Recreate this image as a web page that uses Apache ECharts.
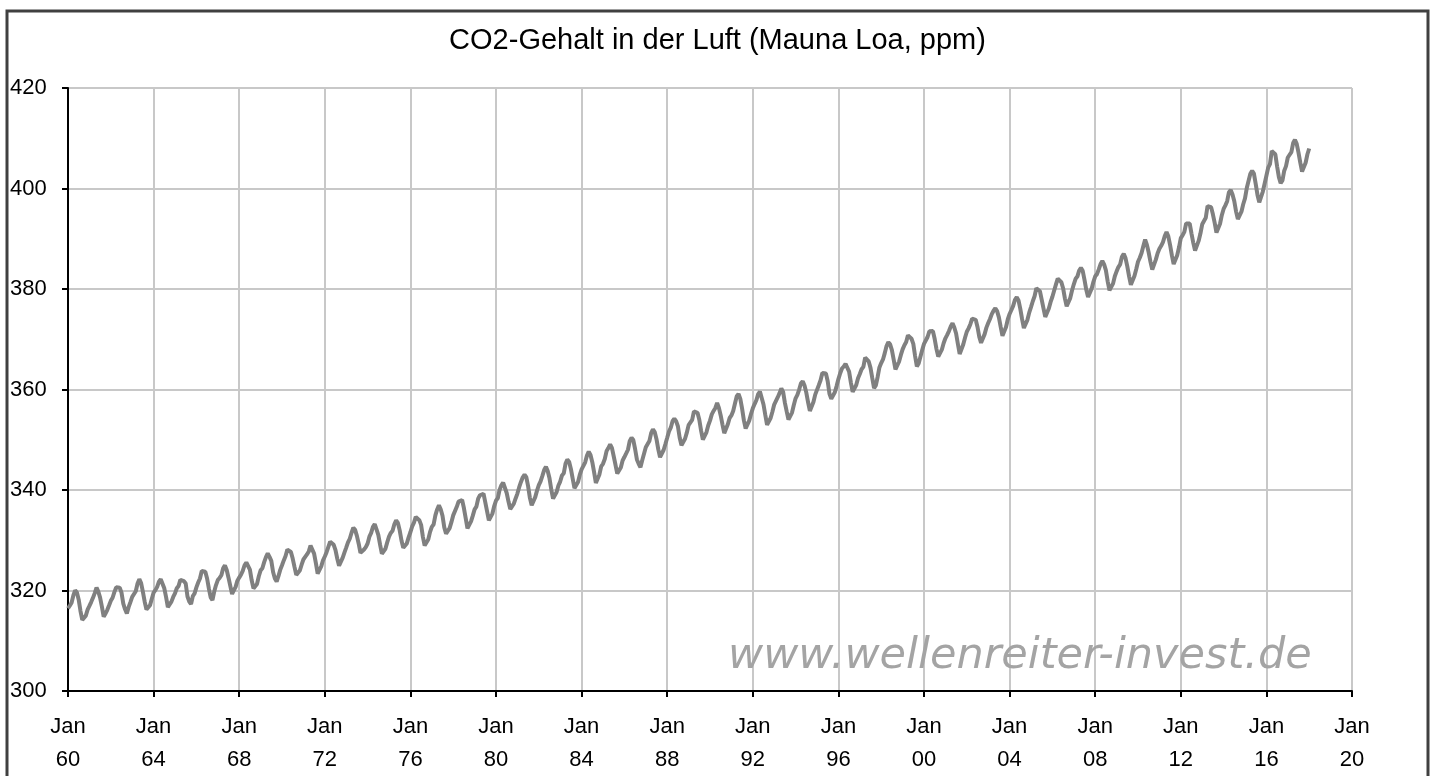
<!DOCTYPE html>
<html>
<head>
<meta charset="utf-8">
<title>CO2-Gehalt in der Luft</title>
<script src="https://cdn.jsdelivr.net/npm/echarts@6/dist/echarts.min.js"></script>
<style>
  html, body { margin: 0; padding: 0; background: #fff; }
  #chart { width: 1435px; height: 776px; }
</style>
</head>
<body>
<div id="chart"></div>
<script>
// Monatswerte Mauna Loa (ppm), eine Zeile = ein Jahr (Jan..Dez)
const startYear = 1960

const co2_1960s = [
  316.43, 316.97, 317.58, 319.02, 320.03, 319.59, 318.18, 315.91, 314.16, 313.83, 315.00, 316.19,
  316.93, 317.70, 318.54, 319.48, 320.58, 319.77, 318.57, 316.79, 314.80, 315.38, 316.10, 317.01,
  317.94, 318.56, 319.68, 320.63, 321.01, 320.55, 319.58, 317.40, 316.26, 315.42, 316.69, 317.69,
  318.74, 319.08, 319.86, 321.39, 322.25, 321.47, 319.74, 317.77, 316.21, 315.99, 317.07, 318.35,
  319.57, 320.07, 320.73, 321.77, 322.25, 321.89, 320.44, 318.70, 316.70, 316.79, 317.79, 318.71,
  319.44, 320.44, 320.89, 322.13, 322.16, 321.87, 321.39, 318.81, 317.81, 317.30, 318.87, 319.42,
  320.62, 321.59, 322.39, 323.87, 324.01, 323.75, 322.39, 320.37, 318.64, 318.10, 319.79, 321.08,
  322.07, 322.50, 323.04, 324.42, 325.00, 324.09, 322.55, 320.92, 319.31, 319.31, 320.72, 321.96,
  322.57, 323.15, 323.89, 325.02, 325.57, 325.36, 324.14, 322.03, 320.41, 320.25, 321.31, 322.84,
  324.00, 324.42, 325.64, 326.66, 327.38, 326.70, 325.89, 323.67, 322.38, 321.78, 322.85, 324.11
]

const co2_1970s = [
  325.03, 325.99, 326.87, 328.13, 328.07, 327.66, 326.35, 324.69, 323.10, 323.16, 323.98, 325.13,
  326.17, 326.68, 327.18, 327.78, 328.92, 328.57, 327.34, 325.46, 323.36, 323.57, 324.80, 326.01,
  326.77, 327.63, 327.75, 329.72, 330.07, 329.09, 328.05, 326.32, 324.93, 325.06, 326.50, 327.55,
  328.54, 329.56, 330.30, 331.50, 332.48, 332.07, 330.87, 329.31, 327.51, 327.18, 328.16, 328.64,
  329.35, 330.71, 331.48, 332.65, 333.19, 332.16, 331.07, 329.12, 327.32, 327.28, 328.30, 329.58,
  330.73, 331.46, 331.90, 333.17, 333.94, 333.45, 331.97, 329.95, 328.50, 328.34, 329.37, 330.58,
  331.59, 332.75, 333.52, 334.64, 334.77, 334.00, 333.06, 330.68, 328.95, 328.75, 330.15, 331.62,
  332.66, 333.13, 334.95, 336.13, 336.93, 336.17, 334.88, 332.56, 331.29, 331.27, 332.41, 333.60,
  334.95, 335.25, 336.66, 337.69, 338.03, 338.01, 336.41, 334.41, 332.37, 332.41, 333.75, 334.90,
  336.14, 336.69, 338.27, 338.95, 339.21, 339.26, 337.54, 335.75, 333.98, 334.19, 335.31, 336.81
]

const co2_1980s = [
  337.90, 338.34, 340.01, 340.93, 341.48, 341.33, 339.40, 337.70, 336.19, 336.15, 337.27, 338.32,
  339.29, 340.55, 341.61, 342.53, 343.03, 342.54, 340.78, 338.44, 336.95, 337.08, 338.58, 339.88,
  340.96, 341.73, 342.81, 343.97, 344.63, 343.79, 342.32, 340.09, 338.28, 338.29, 339.60, 340.90,
  341.68, 342.90, 343.33, 345.25, 346.03, 345.63, 344.19, 342.27, 340.35, 340.38, 341.59, 343.05,
  344.10, 344.79, 345.52, 346.84, 347.63, 346.98, 345.53, 343.55, 341.40, 341.67, 343.10, 344.70,
  345.21, 346.16, 347.74, 348.34, 349.06, 348.38, 346.72, 345.02, 343.27, 343.13, 344.49, 345.88,
  346.56, 347.28, 348.01, 349.77, 350.38, 349.93, 348.16, 346.08, 345.22, 344.51, 345.93, 347.22,
  348.52, 348.73, 349.73, 351.31, 352.09, 351.53, 350.11, 348.08, 346.52, 346.59, 347.96, 349.16,
  350.39, 351.64, 352.40, 353.69, 354.21, 353.72, 352.69, 350.40, 348.92, 349.13, 350.20, 351.41,
  352.91, 353.27, 353.96, 355.64, 355.86, 355.37, 353.99, 351.81, 350.05, 350.25, 351.49, 352.85
]

const co2_1990s = [
  353.80, 355.04, 355.73, 356.32, 357.32, 356.34, 354.84, 353.01, 351.31, 351.62, 353.07, 354.33,
  354.84, 355.73, 357.23, 358.66, 359.13, 358.13, 356.19, 353.85, 352.25, 352.35, 353.81, 355.12,
  356.25, 357.11, 357.86, 359.09, 359.59, 359.33, 357.01, 354.94, 352.96, 353.32, 354.32, 355.57,
  357.00, 357.31, 358.47, 359.27, 360.19, 359.52, 357.33, 355.64, 354.03, 354.12, 355.41, 356.91,
  358.24, 358.92, 359.99, 361.23, 361.65, 360.81, 359.38, 357.46, 355.73, 356.08, 357.53, 358.98,
  359.92, 360.86, 361.83, 363.30, 363.69, 363.19, 361.64, 359.12, 358.17, 357.99, 359.45, 360.68,
  362.07, 363.24, 364.17, 364.57, 365.13, 364.92, 363.55, 361.38, 359.54, 359.58, 360.89, 362.24,
  363.09, 364.03, 364.51, 366.35, 366.64, 365.59, 364.31, 362.25, 360.29, 360.82, 362.49, 364.38,
  365.26, 365.98, 367.24, 368.66, 369.42, 368.99, 367.82, 365.95, 364.02, 364.40, 365.52, 366.83,
  367.98, 368.82, 369.46, 370.77, 370.66, 370.10, 369.08, 366.66, 364.60, 365.17, 366.51, 367.85
]

const co2_2000s = [
  369.08, 369.40, 370.45, 371.59, 371.75, 371.62, 370.04, 368.04, 366.54, 366.63, 367.92, 369.20,
  370.19, 370.88, 371.63, 372.53, 373.20, 372.34, 371.14, 369.05, 367.06, 367.39, 368.96, 370.29,
  371.50, 372.16, 373.00, 374.09, 374.44, 373.86, 372.44, 370.46, 369.28, 369.52, 371.02, 372.31,
  373.22, 374.03, 374.99, 375.67, 376.16, 375.59, 374.36, 372.46, 370.70, 370.91, 372.43, 373.98,
  375.03, 375.82, 376.64, 377.86, 378.38, 377.73, 376.05, 373.99, 372.24, 372.40, 373.86, 375.30,
  376.40, 377.57, 378.56, 380.17, 380.44, 379.56, 377.88, 376.16, 374.45, 374.45, 376.11, 377.42,
  378.46, 379.70, 380.91, 382.08, 382.25, 381.36, 380.16, 378.14, 376.56, 376.73, 378.18, 379.71,
  380.94, 382.03, 382.47, 383.68, 384.20, 383.61, 381.82, 379.83, 378.43, 378.74, 380.07, 381.44,
  382.52, 382.96, 383.90, 384.96, 385.57, 384.89, 383.70, 381.53, 379.75, 379.75, 381.07, 382.53,
  383.51, 384.37, 384.91, 386.41, 387.00, 386.16, 384.49, 382.52, 380.85, 381.01, 382.60, 383.94
]

const co2_2010s = [
  385.42, 386.21, 387.16, 388.55, 389.85, 388.76, 387.25, 385.39, 383.85, 383.81, 385.84, 387.13,
  388.01, 388.60, 389.34, 390.52, 391.35, 390.49, 388.75, 386.68, 384.98, 384.96, 386.73, 388.30,
  390.12, 390.71, 391.36, 393.05, 393.43, 393.03, 391.04, 389.18, 387.66, 387.87, 389.57, 391.04,
  392.88, 393.54, 394.18, 396.51, 396.79, 396.29, 394.86, 393.16, 391.24, 391.58, 392.99, 394.69,
  395.93, 396.64, 397.48, 399.26, 399.68, 398.80, 397.47, 395.40, 393.91, 394.04, 395.38, 396.87,
  398.04, 400.08, 400.44, 402.92, 403.53, 402.96, 400.93, 398.72, 397.26, 397.63, 399.40, 400.96,
  402.54, 404.16, 404.85, 407.45, 407.72, 406.83, 404.41, 402.27, 401.05, 401.59, 403.55, 404.45,
  406.17, 406.46, 407.22, 409.04, 409.69, 408.88, 407.12, 405.13, 403.37, 403.63, 405.12, 406.81,
  407.96
]

// Achsen: Jahre (x) und ppm (y)
const xMin = 1960, xMax = 2020, xStep = 4
const yMin = 300, yMax = 420, yStep = 20

const titleText = 'CO2-Gehalt in der Luft (Mauna Loa, ppm)'
const watermark = 'www.wellenreiter-invest.de'

const monthly = [].concat(co2_1960s, co2_1970s, co2_1980s, co2_1990s, co2_2000s, co2_2010s)
// x = Jahr + Monat/12
const seriesData = monthly.map((v, i) => [startYear + i / 12, v])

const chart = echarts.init(document.getElementById('chart'))

const option = {
  animation: false,
  backgroundColor: '#fff',
  title: {
    text: titleText,
    left: 'center',
    top: 21,
    textStyle: {
      fontFamily: 'Arial, "Liberation Sans", sans-serif',
      fontSize: 29,
      fontWeight: 'normal',
      color: '#000'
    }
  },
  grid: { left: 68, right: 83, top: 88, bottom: 85 },
  xAxis: {
    type: 'value',
    min: xMin,
    max: xMax,
    interval: xStep,
    axisLine: { lineStyle: { color: '#000', width: 2 } },
    axisTick: { length: 6, lineStyle: { color: '#000', width: 2 } },
    splitLine: { show: true, lineStyle: { color: '#c8c8c8', width: 2 } },
    axisLabel: {
      margin: 19,
      fontFamily: 'Arial, "Liberation Sans", sans-serif',
      fontSize: 22,
      lineHeight: 33,
      color: '#000',
      formatter: v => 'Jan\n' + String(v % 100).padStart(2, '0')
    }
  },
  yAxis: {
    type: 'value',
    min: yMin,
    max: yMax,
    interval: yStep,
    axisLine: { show: true, lineStyle: { color: '#000', width: 2 } },
    axisTick: { show: true, length: 6, lineStyle: { color: '#000', width: 2 } },
    splitLine: { show: true, lineStyle: { color: '#c8c8c8', width: 2 } },
    axisLabel: {
      align: 'left',
      margin: 58,
      fontFamily: 'Arial, "Liberation Sans", sans-serif',
      fontSize: 22,
      color: '#000'
    }
  },
  series: [{
    type: 'line',
    data: seriesData,
    showSymbol: false,
    lineStyle: { color: '#808080', width: 4 },
    z: 3
  }],
  graphic: [
    {
      type: 'text',
      left: 728,
      top: 635,
      z: 1,
      style: {
        text: watermark,
        fontFamily: '"DejaVu Sans", Verdana, sans-serif',
        fontStyle: 'italic',
        fontSize: 43,
        fill: '#a4a4a4'
      }
    },
    {
      // Rahmen um das ganze Bild
      type: 'rect',
      shape: { x: 7, y: 11, width: 1421, height: 800 },
      style: { fill: 'none', stroke: '#404040', lineWidth: 3 },
      z: 10
    }
  ]
}

chart.setOption(option)
</script>
</body>
</html>
